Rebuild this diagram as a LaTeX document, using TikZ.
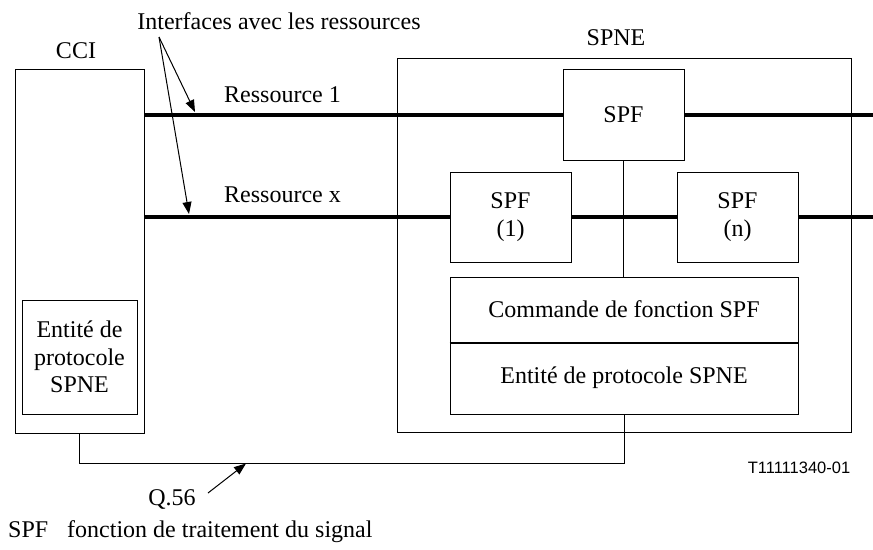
\documentclass[tikz,border=0pt]{standalone}
\usepackage{fontspec}
\setmainfont{Liberation Serif}
\newfontfamily\arialfont{Liberation Sans}
\usetikzlibrary{arrows.meta}
\begin{document}
\begin{tikzpicture}[x=1pt,y=-1pt,
  box/.style={draw, line width=1pt, inner sep=0pt, align=center},
  bus/.style={line width=4pt},
  thinline/.style={line width=1pt},
  pointer/.style={line width=1pt, -{Triangle[length=12pt,width=9pt]}},
  lbl/.style={inner sep=0pt, anchor=base},
  every node/.append style={font=\fontsize{24pt}{27.5pt}\selectfont}
]
\useasboundingbox (0,0) rectangle (873,549);

% CCI side
\node[box, minimum width=129pt, minimum height=364pt] (cci) at (79.5,251) {};
\node[lbl] (ccilbl) at (76,58) {CCI};
\node[box, minimum width=115pt, minimum height=114pt] (cciprot) at (79.5,357) {Entité de\\protocole\\SPNE};

% SPNE side
\node[box, minimum width=454pt, minimum height=374pt] (spne) at (624,245) {};
\node[lbl] (spnelbl) at (616,45) {SPNE};
\node[box, minimum width=121pt, minimum height=91pt] (spftop) at (623.5,114.5) {SPF};
\node[box, minimum width=121pt, minimum height=90pt] (spf1) at (510.5,217) {SPF\\(1)};
\node[box, minimum width=121pt, minimum height=90pt] (spfn) at (737.5,217) {SPF\\(n)};
\node[box, minimum width=348pt, minimum height=65pt] (cmd) at (624,309.5) {Commande de fonction SPF};
\node[box, minimum width=348pt, minimum height=72pt] (ent) at (624,378) {Entité de protocole SPNE};
\draw[line width=2pt] (cmd.south west) -- (cmd.south east);

\draw[thinline] (spftop.south) -- (spftop.south |- cmd.north);

% resource buses
\coordinate (r1end) at (873,114.5);
\coordinate (rxend) at (873,217);
\draw[bus] (cci.east |- spftop.west) -- (spftop.west);
\draw[bus] (spftop.east) -- (r1end);
\draw[bus] (cci.east |- spf1.west) -- (spf1.west);
\draw[bus] (spf1.east) -- (spfn.west);
\draw[bus] (spfn.east) -- (rxend);
\node[lbl] (r1lbl) at (282.5,102) {Ressource 1};
\node[lbl] (rxlbl) at (282.5,202) {Ressource x};

% interface pointers
\node[lbl] (intf) at (279,29) {Interfaces avec les ressources};
\coordinate (intfsrc) at (159,37);
\coordinate (if1) at (195,112);
\coordinate (ifx) at (189,214);
\draw[pointer] (intfsrc) -- (if1);
\draw[pointer] (intfsrc) -- (ifx);

% Q.56 link
\draw[thinline] (cci.south) -- ++(0,30) -| (ent.south);
\node[lbl] (q56) at (172,505) {Q.56};
\coordinate (qsrc) at (208,493);
\coordinate (qdst) at (246,463.5);
\draw[pointer] (qsrc) -- (qdst);

\node[lbl, font=\arialfont\fontsize{16.5pt}{19pt}\selectfont] (tnum) at (799,473) {T11111340-01};

% legend
\node[lbl, anchor=base west] (legab) at (8,537) {SPF};
\node[lbl, anchor=base west] (legtx) at (67,537) {fonction de traitement du signal};
\end{tikzpicture}
\end{document}
